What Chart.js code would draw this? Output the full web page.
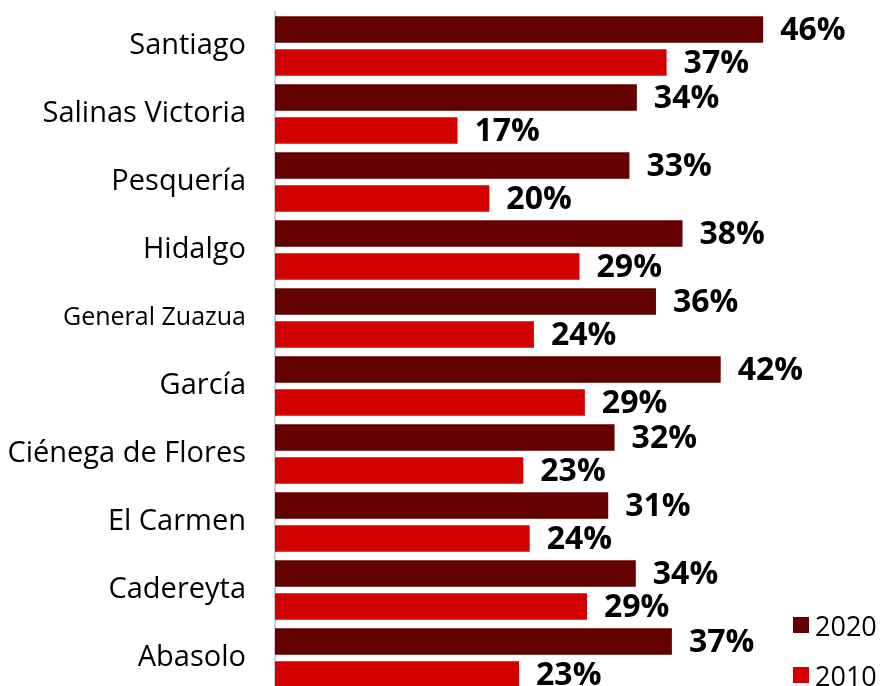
<!DOCTYPE html>
<html>
<head>
<meta charset="utf-8">
<title>Municipios 2010 - 2020</title>
<script src="https://cdn.jsdelivr.net/npm/chart.js@4.4.0/dist/chart.umd.min.js"></script>
<style>
    html, body {
        margin: 0;
        padding: 0;
        background: #fff;
        overflow: hidden;
    }
    .wrap {
        position: relative;
        width: 882px;
        height: 692px;
    }
    #legend {
        position: absolute;
        left: 793px;
        top: 600px;
        font-family: 'Open Sans', sans-serif;
        font-size: 27px;
        color: #000;
    }
    .legend-item {
        display: flex;
        align-items: center;
        height: 50px;
    }
    .legend-box {
        width: 16px;
        height: 16px;
        margin-right: 6px;
    }
</style>
</head>
<body>
<div class="wrap">
    <canvas id="chart" width="882" height="692"></canvas>
    <div id="legend"></div>
</div>
<script>
// Datos
const municipios = ['Santiago', 'Salinas Victoria', 'Pesquería', 'Hidalgo', 'General Zuazua',
    'García', 'Ciénega de Flores', 'El Carmen', 'Cadereyta', 'Abasolo'];
const series = ['2020', '2010'];
const valores2020 = [46, 34.1, 33.4, 38.4, 35.9, 42, 32, 31.4, 34, 37.4];
const valores2010 = [36.9, 17.2, 20.2, 28.7, 24.4, 29.2, 23.4, 24, 29.4, 23];

const colores = ['#630000', '#d40000'];
const fuente = "'Open Sans', sans-serif";

// Plugin para etiquetas de valor
const valueLabels = {
    id: 'valueLabels',
    afterDatasetsDraw(chart) {
        const ctx = chart.ctx;
        ctx.save();
        ctx.font = 'bold 32px ' + fuente;
        ctx.fillStyle = '#000';
        ctx.textAlign = 'left';
        ctx.textBaseline = 'middle';
        chart.data.datasets.forEach((ds, i) => {
            chart.getDatasetMeta(i).data.forEach((bar, j) => {
                ctx.fillText(Math.round(ds.data[j]) + '%', bar.x + 17, bar.y + 1);
            });
        });
        ctx.restore();
    }
};

const chart = new Chart(document.getElementById('chart'), {
    type: 'bar',
    data: {
        labels: municipios,
        datasets: [
            { label: series[0], data: valores2020, backgroundColor: colores[0] },
            { label: series[1], data: valores2010, backgroundColor: colores[1] }
        ]
    },
    options: {
        indexAxis: 'y',
        responsive: false,
        animation: false,
        categoryPercentage: 0.97,
        barPercentage: 0.8,
        layout: { padding: { top: 12, left: 0, right: 0, bottom: 0 } },
        plugins: {
            legend: { display: false },
            tooltip: { enabled: false }
        },
        scales: {
            x: {
                display: false,
                min: 0,
                max: 57.2
            },
            y: {
                grid: { display: false, drawTicks: false },
                border: { color: '#d0d0d0', width: 2 },
                ticks: {
                    padding: 29,
                    color: '#000',
                    font: ctx => ({ family: fuente, size: ctx.index === 4 ? 25 : 29 })
                },
                afterFit(scale) {
                    scale.width = 275;
                    scale.paddingTop = 0;
                    scale.paddingBottom = 0;
                }
            }
        }
    },
    plugins: [valueLabels]
});

// Leyenda en HTML
const legend = document.getElementById('legend');
chart.data.datasets.forEach(ds => {
    const item = document.createElement('div');
    item.className = 'legend-item';
    const box = document.createElement('span');
    box.className = 'legend-box';
    box.style.background = ds.backgroundColor;
    const text = document.createElement('span');
    text.textContent = ds.label;
    item.appendChild(box);
    item.appendChild(text);
    legend.appendChild(item);
});
</script>
</body>
</html>
